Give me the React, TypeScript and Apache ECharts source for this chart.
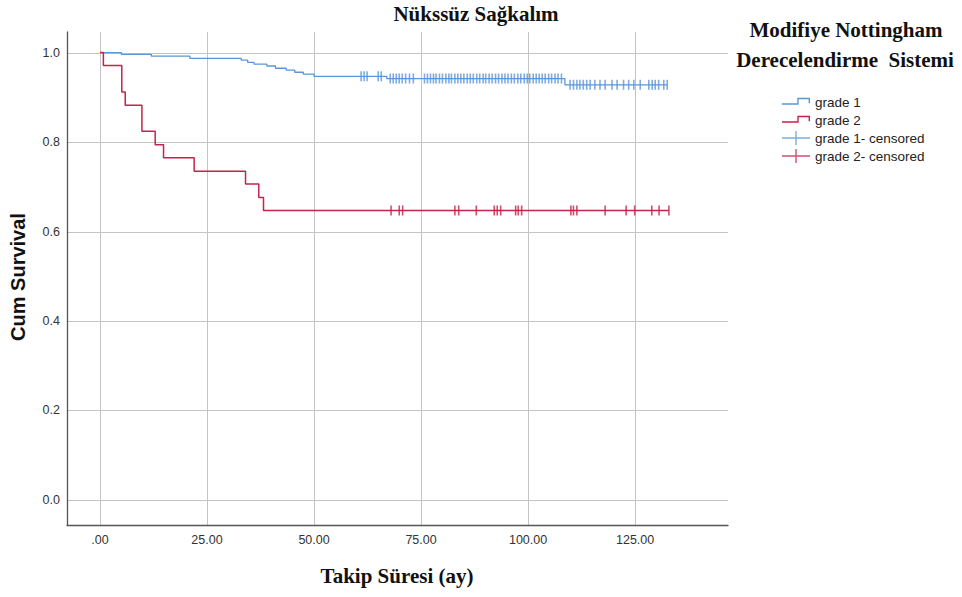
import React, { useEffect, useRef } from "react";
import * as echarts from "echarts";

// ---------- data ----------
const TITLE = "Nükssüz Sağkalım";
const X_TITLE = "Takip Süresi (ay)";
const Y_TITLE = "Cum Survival";
const LEGEND_TITLE_1 = "Modifiye Nottingham";
const LEGEND_TITLE_2 = "Derecelendirme  Sistemi";

const X_TICKS = [0, 25, 50, 75, 100, 125];
const X_TICK_LABELS = [".00", "25.00", "50.00", "75.00", "100.00", "125.00"];
const Y_TICKS = [0, 0.2, 0.4, 0.6, 0.8, 1.0];
const Y_TICK_LABELS = ["0.0", "0.2", "0.4", "0.6", "0.8", "1.0"];

const X_MIN = -7.7;
const X_MAX = 146.7;
const Y_MIN = -0.056;
const Y_MAX = 1.046;

// Kaplan-Meier steps [time, survival after the event]
const GRADE1_STEPS: [number, number][] = [
  [0, 1], [5, 0.996], [12, 0.992], [21, 0.987], [33, 0.983], [34.5, 0.978],
  [36, 0.974], [39, 0.97], [41, 0.965], [43.5, 0.961], [45.5, 0.956],
  [47.5, 0.952], [50, 0.947], [67, 0.942], [108.6, 0.928], [132.5, 0.928],
];
const GRADE2_STEPS: [number, number][] = [
  [0, 1], [0.8, 0.971], [5.1, 0.912], [5.9, 0.882], [9.8, 0.824],
  [12.9, 0.794], [14.85, 0.765], [22, 0.735], [34, 0.706], [37.1, 0.676],
  [38.2, 0.647], [132.9, 0.647],
];

// censored times
const GRADE1_CENSORED = [
  61.0, 61.7, 62.4, 65.0, 65.7,
  67.8, 68.5, 69.2, 69.9, 70.6, 71.4, 72.3, 73.2,
  75.8, 76.5, 77.2, 77.9, 78.5, 79.3, 80.0, 80.8, 81.5, 82.1, 82.9, 83.6,
  84.3, 85.0, 85.8, 86.5, 87.2, 88.0, 88.7, 89.5, 90.1, 90.9, 91.6, 92.4,
  93.1, 93.9, 94.6, 95.3, 96.1, 96.8, 97.6, 98.3, 99.1, 99.8,
  100.4, 101.2, 101.9, 102.6, 103.3, 104.0, 104.8, 105.5, 106.3, 107.0, 107.8,
  109.8, 110.6, 111.4, 112.1, 112.9, 113.7, 114.5, 115.6, 116.8, 118.0,
  119.6, 120.8, 122.3, 123.5, 124.7, 126.2, 128.2, 129.0, 129.7, 130.5,
  131.7, 132.5,
];
const GRADE2_CENSORED = [
  68.0, 69.9, 70.7, 82.9, 83.8, 87.9, 92.1, 92.8, 93.6, 97.1, 97.7, 98.5,
  110.0, 110.6, 111.4, 118.0, 122.9, 124.9, 128.9, 130.6, 132.9,
];

const SERIES_NAMES = ["grade 1", "grade 2", "grade 1- censored", "grade 2- censored"];

// ---------- styles ----------
const BLUE = "#5b97d8";
const RED = "#c4234b";
const GRID_COLOR = "#c4c4c4";
const AXIS_COLOR = "#555555";
const SERIF = "'Liberation Serif', 'Times New Roman', serif";
const SANS = "'Liberation Sans', Arial, sans-serif";

const STEP_ICON =
  "path://M0,0 L0,0 Z M28,14 L28,14 Z M0,8.3 L15.3,8.3 L15.3,2.8 L28,2.8 L28,8.3 L26.6,8.3 L26.6,4.2 L16.7,4.2 L16.7,9.7 L0,9.7 Z";
const PLUS_ICON =
  "path://M0,6.3 L13.3,6.3 L13.3,0 L14.7,0 L14.7,6.3 L28,6.3 L28,7.7 L14.7,7.7 L14.7,14 L13.3,14 L13.3,7.7 L0,7.7 Z";

function survivalAt(steps: [number, number][], t: number): number {
  let s = steps[0][1];
  for (const [time, val] of steps) {
    if (time <= t) s = val;
  }
  return s;
}

export default function App() {
  const ref = useRef<HTMLDivElement>(null);

  useEffect(() => {
    if (!ref.current) return;
    const chart = echarts.init(ref.current, null, { renderer: "svg" });

    const option: any = {
      animation: false,
      backgroundColor: "#ffffff",
      grid: { left: 67, right: 234, top: 32, bottom: 72 },
      xAxis: {
        type: "value",
        min: X_MIN,
        max: X_MAX,
        axisLine: { show: true, onZero: false, lineStyle: { color: AXIS_COLOR, width: 1.3 } },
        axisTick: { show: false },
        axisLabel: { show: false },
        splitLine: { show: false },
      },
      yAxis: {
        type: "value",
        min: Y_MIN,
        max: Y_MAX,
        axisLine: { show: true, onZero: false, lineStyle: { color: AXIS_COLOR, width: 1.3 } },
        axisTick: { show: false },
        axisLabel: { show: false },
        splitLine: { show: false },
      },
      legend: {
        orient: "vertical",
        left: 777,
        top: 90,
        itemWidth: 28,
        itemHeight: 14,
        itemGap: 4,
        data: [
          { name: SERIES_NAMES[0], icon: STEP_ICON },
          { name: SERIES_NAMES[1], icon: STEP_ICON },
          { name: SERIES_NAMES[2], icon: PLUS_ICON },
          { name: SERIES_NAMES[3], icon: PLUS_ICON },
        ],
        itemStyle: { borderWidth: 0 },
        textStyle: { fontFamily: SANS, fontSize: 13.5, color: "#222" },
        selectedMode: false,
      },
      graphic: [
        {
          type: "text", x: 476, y: 14,
          style: { text: TITLE, font: `bold 21px ${SERIF}`, fill: "#111", align: "center", verticalAlign: "middle" },
        },
        {
          type: "text", x: 397, y: 576,
          style: { text: X_TITLE, font: `bold 21px ${SERIF}`, fill: "#111", align: "center", verticalAlign: "middle" },
        },
        {
          type: "text", x: 18, y: 277, rotation: Math.PI / 2,
          style: { text: Y_TITLE, font: `bold 20px ${SANS}`, fill: "#111", align: "center", verticalAlign: "middle" },
        },
        {
          type: "text", x: 846, y: 30,
          style: { text: LEGEND_TITLE_1, font: `bold 21px ${SERIF}`, fill: "#111", align: "center", verticalAlign: "middle" },
        },
        {
          type: "text", x: 845, y: 60,
          style: { text: LEGEND_TITLE_2, font: `bold 21px ${SERIF}`, fill: "#111", align: "center", verticalAlign: "middle" },
        },
      ],
      series: [
        {
          name: "gridAndTicks",
          type: "custom",
          z: 0,
          silent: true,
          data: [[0, 0]],
          renderItem: (params: any, api: any) => {
            const cs = params.coordSys;
            const children: any[] = [];
            X_TICKS.forEach((v, i) => {
              const p = api.coord([v, 0]);
              const x = Math.round(p[0]) + 0.5;
              children.push({
                type: "line",
                shape: { x1: x, y1: cs.y, x2: x, y2: cs.y + cs.height },
                style: { stroke: GRID_COLOR, lineWidth: 1 },
              });
              children.push({
                type: "text",
                x: p[0],
                y: cs.y + cs.height + 15,
                style: { text: X_TICK_LABELS[i], fill: "#333", fontSize: 12.5, fontFamily: SANS, align: "center", verticalAlign: "middle" },
              });
            });
            Y_TICKS.forEach((v, i) => {
              const p = api.coord([0, v]);
              const y = Math.round(p[1]) + 0.5;
              children.push({
                type: "line",
                shape: { x1: cs.x, y1: y, x2: cs.x + cs.width, y2: y },
                style: { stroke: GRID_COLOR, lineWidth: 1 },
              });
              children.push({
                type: "text",
                x: cs.x - 7,
                y: p[1],
                style: { text: Y_TICK_LABELS[i], fill: "#333", fontSize: 12.5, fontFamily: SANS, align: "right", verticalAlign: "middle" },
              });
            });
            return { type: "group", children };
          },
        },
        {
          name: SERIES_NAMES[0],
          type: "line",
          step: "end",
          symbol: "none",
          color: BLUE,
          z: 3,
          lineStyle: { color: BLUE, width: 1.3 },
          data: GRADE1_STEPS,
        },
        {
          name: SERIES_NAMES[1],
          type: "line",
          step: "end",
          symbol: "none",
          color: RED,
          z: 3,
          lineStyle: { color: RED, width: 1.5 },
          data: GRADE2_STEPS,
        },
        {
          name: SERIES_NAMES[2],
          type: "scatter",
          symbol: "rect",
          symbolSize: [1.6, 10],
          color: BLUE,
          z: 4,
          itemStyle: { color: BLUE },
          data: GRADE1_CENSORED.map((t) => [t, survivalAt(GRADE1_STEPS, t)]),
        },
        {
          name: SERIES_NAMES[3],
          type: "scatter",
          symbol: "rect",
          symbolSize: [1.6, 10],
          color: RED,
          z: 4,
          itemStyle: { color: RED },
          data: GRADE2_CENSORED.map((t) => [t, survivalAt(GRADE2_STEPS, t)]),
        },
      ],
    };

    chart.setOption(option);
    return () => chart.dispose();
  }, []);

  return (
    <div
      ref={ref}
      style={{ position: "fixed", left: 0, top: 0, width: 962, height: 597, background: "#fff" }}
    />
  );
}
